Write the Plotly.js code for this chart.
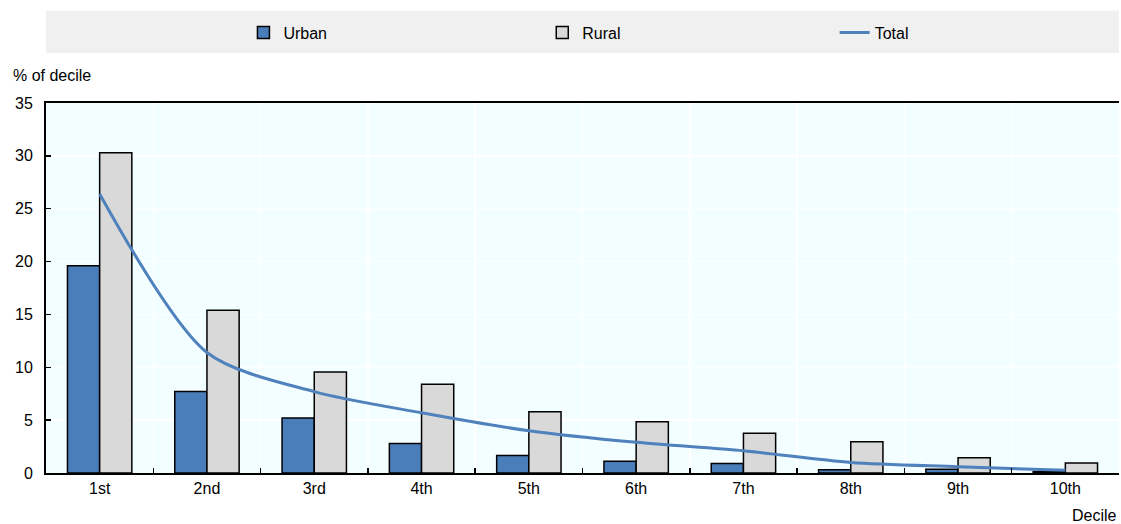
<!DOCTYPE html>
<html><head><meta charset="utf-8">
<script src="https://cdn.plot.ly/plotly-3.0.1.min.js"></script>
<style>body{margin:0;background:#fff}#c{width:1121px;height:524px}</style>
</head><body><div id="c"></div>
<script>
const deciles = ["1st","2nd","3rd","4th","5th","6th","7th","8th","9th","10th"];
const urban = [19.6, 7.7, 5.2, 2.8, 1.65, 1.1, 0.9, 0.3, 0.35, 0.15];
const rural = [30.3, 15.4, 9.55, 8.4, 5.8, 4.85, 3.75, 2.95, 1.45, 0.95];
const total = [26.4, 11.4, 7.7, 5.7, 4.0, 2.9, 2.1, 1.0, 0.6, 0.25];
const FONT = "Liberation Sans Narrow, Arial Narrow, Liberation Sans, Arial, sans-serif";
const data = [
  {type:"bar", name:"Urban", x:deciles, y:urban, legend:"legend", marker:{color:"#4a7ebb", line:{color:"#000", width:1.5}}},
  {type:"bar", name:"Rural", x:deciles, y:rural, legend:"legend2", marker:{color:"#d9d9d9", line:{color:"#000", width:1.5}}},
  {type:"scatter", mode:"lines", name:"Total", x:deciles, y:total, legend:"legend3", line:{color:"#4f81bd", width:3, shape:"spline", smoothing:0.8}}
];
function leg(x){ return {orientation:"h", x:x, xanchor:"left", y:1.19, yanchor:"middle",
          bgcolor:"rgba(0,0,0,0)", font:{family:FONT, size:16}}; }
const layout = {
  width:1121, height:524,
  margin:{l:46, r:2, t:103, b:51},
  paper_bgcolor:"#fff", plot_bgcolor:"#f2feff",
  font:{family:FONT, size:16, color:"#000"},
  barmode:"group", bargap:0.4, bargroupgap:0,
  showlegend:true,
  legend:leg(0.184), legend2:leg(0.4625), legend3:leg(0.735),
  shapes:[{type:"rect", xref:"paper", yref:"paper", x0:0, x1:1, y0:1.135, y1:1.25, fillcolor:"#f0f0f0", line:{width:0}, layer:"below"}],
  xaxis:{type:"category", tickson:"boundaries", ticks:"inside", ticklen:5, tickwidth:1.5, tickcolor:"#000",
         showgrid:true, gridcolor:"#ffffff", gridwidth:1.5, showline:true, linecolor:"#000", linewidth:2, mirror:true,
         tickfont:{family:FONT, size:16}, range:[-0.5, 9.5]},
  yaxis:{range:[0,35], dtick:5, ticks:"inside", ticklen:5, tickwidth:1.5, tickcolor:"#000",
         showgrid:true, gridcolor:"#ffffff", gridwidth:1.5, showline:true, linecolor:"#000", linewidth:2,
         zeroline:false, tickfont:{family:FONT, size:16}, ticklabelstandoff:8},
  annotations:[
    {text:"% of decile", xref:"paper", yref:"paper", x:-0.033, y:1.075, xanchor:"left", yanchor:"middle", showarrow:false, font:{family:FONT, size:16}},
    {text:"Decile", xref:"paper", yref:"paper", x:1, y:-0.115, xanchor:"right", yanchor:"middle", showarrow:false, font:{family:FONT, size:16}}
  ]
};
Plotly.newPlot("c", data, layout, {displayModeBar:false, staticPlot:true});
</script></body></html>
